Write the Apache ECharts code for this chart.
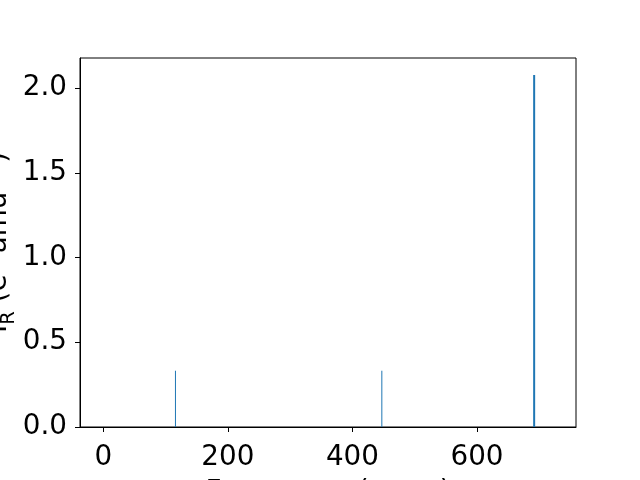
<!DOCTYPE html>
<html>
<head>
<meta charset="utf-8">
<script src="https://cdn.jsdelivr.net/npm/echarts@6/dist/echarts.min.js"></script>
<style>html,body{margin:0;padding:0;background:#fff;}#c{width:640px;height:480px;}</style>
</head>
<body>
<div id="c"></div>
<script>
var frequencies = [115.8, 447.2, 691.8];
var intensities = [0.332, 0.332, 2.077];
var peakWidths = [1, 1, 2];
var xTicks = [0, 200, 400, 600];
var yTicks = [0.0, 0.5, 1.0, 1.5, 2.0];

var chart = echarts.init(document.getElementById('c'), null, {renderer: 'canvas'});
var font = 'DejaVu Sans';
var FS = 27.8;
var series = frequencies.map(function (f, i) {
  return {
    type: 'line',
    data: [[f, 0], [f, intensities[i]]],
    symbol: 'none',
    silent: true,
    animation: false,
    lineStyle: {color: '#1f77b4', width: peakWidths[i]}
  };
});
var rich = {
  n: {fontFamily: font, fontSize: FS, lineHeight: 28, color: '#000', verticalAlign: 'middle'},
  sup: {fontFamily: font, fontSize: 19.5, lineHeight: 20, color: '#000', verticalAlign: 'top', padding: [0, 0, 34, 0]},
  sub: {fontFamily: font, fontSize: 19.5, lineHeight: 20, color: '#000', verticalAlign: 'middle', padding: [20, 0, 0, 0]}
};
chart.setOption({
  animation: false,
  grid: {left: 80, right: 64, top: 58, bottom: 53, containLabel: false, outerBoundsMode: 'none', show: true, borderColor: '#000', borderWidth: 1, backgroundColor: 'transparent'},
  xAxis: {
    type: 'value', min: -37.5, max: 759,
    name: '{n|Frequency (cm}{sup|−1}{n|)}',
    nameLocation: 'middle', nameGap: 52, nameMoveOverlap: false,
    nameTextStyle: {rich: rich},
    axisLine: {show: true, onZero: false, lineStyle: {color: '#000', width: 1}},
    axisTick: {show: true, length: 5, lineStyle: {color: '#000', width: 1}, customValues: xTicks},
    axisLabel: {fontFamily: font, fontSize: FS, color: '#000', margin: 17, customValues: xTicks, formatter: function (v) { return String(v); }},
    splitLine: {show: false}
  },
  yAxis: {
    type: 'value', min: 0, max: 2.177,
    name: '{n|I}{sub|R}{n| (e}{sup|2}{n| amu}{sup|−1}{n|)}',
    nameLocation: 'middle', nameGap: 67, nameRotate: 90, nameMoveOverlap: false,
    nameTextStyle: {rich: rich},
    axisLine: {show: true, onZero: false, lineStyle: {color: '#000', width: 1}},
    axisTick: {show: true, length: 5, lineStyle: {color: '#000', width: 1}, customValues: yTicks},
    axisLabel: {fontFamily: font, fontSize: FS, color: '#000', margin: 13, customValues: yTicks, formatter: function (v) { return v.toFixed(1); }},
    splitLine: {show: false}
  },
  series: series
});
</script>
</body>
</html>
